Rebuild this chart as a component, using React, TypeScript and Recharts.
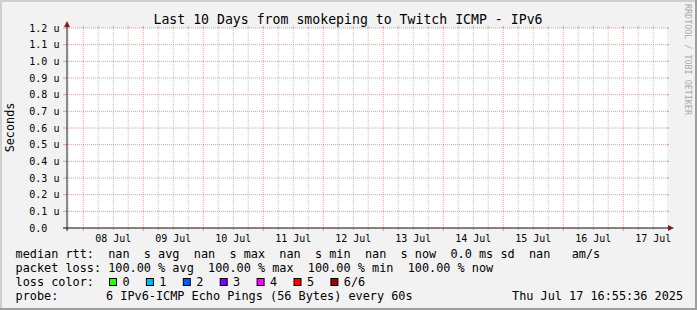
import React from "react";
import { ComposedChart, Line, XAxis, YAxis, ReferenceLine, ReferenceArea } from "recharts";

const FONT = "'DejaVu Sans Mono', 'Liberation Mono', monospace";

const title = "Last 10 Days from smokeping to Twitch ICMP - IPv6";
const yAxisTitle = "Seconds";
const watermark = "RRDTOOL / TOBI OETIKER";

// time axis: hours since 2025-07-07 00:00
const timeStart = 17.5;
const timeEnd = 257.5;
const sampleHours = [17.5, 137.5, 257.5];
const medianRttValues: (number | null)[] = [null, null, null]; // all NaN

const dayLabels = ["08 Jul", "09 Jul", "10 Jul", "11 Jul", "12 Jul", "13 Jul", "14 Jul", "15 Jul", "16 Jul", "17 Jul"];
const dayMidnightHours = [24, 48, 72, 96, 120, 144, 168, 192, 216, 240];
const dayNoonHours = [36, 60, 84, 108, 132, 156, 180, 204, 228, 252];
const minorGridHours = [18, 30, 36, 42, 54, 60, 66, 78, 84, 90, 102, 108, 114, 126, 132, 138, 150, 156, 162, 174, 180, 186, 198, 204, 210, 222, 228, 234, 246, 252];

const yMax = 1.2e-6;
const yTicks = [0, 1e-7, 2e-7, 3e-7, 4e-7, 5e-7, 6e-7, 7e-7, 8e-7, 9e-7, 1e-6, 1.1e-6, 1.2e-6];
const yTickLabels = ["0.0", "0.1 u", "0.2 u", "0.3 u", "0.4 u", "0.5 u", "0.6 u", "0.7 u", "0.8 u", "0.9 u", "1.0 u", "1.1 u", "1.2 u"];

const rttLine = "median rtt:  nan  s avg  nan  s max  nan  s min  nan  s now  0.0 ms sd  nan   am/s";
const packetLossLine = "packet loss: 100.00 % avg  100.00 % max  100.00 % min  100.00 % now";
const lossColorLabel = "loss color:";
const lossLabels = ["0", "1", "2", "3", "4", "5", "6/6"];
const lossColors = ["#26ff00", "#00b8ff", "#0059ff", "#7e00ff", "#ff00ff", "#ff0000", "#a10000"];
const probeLabel = "probe:";
const probeText = "6 IPv6-ICMP Echo Pings (56 Bytes) every 60s";
const dateText = "Thu Jul 17 16:55:36 2025";

const data = sampleHours.map((t, i) => ({ t, median: medianRttValues[i] }));

const MINOR = "rgba(143,143,143,0.55)";
const MAJOR = "rgba(222,79,79,0.55)";
const AXIS = "#1f1f1f";
const ARROW = "#7f1f1f";

const XTick = (props: any) => {
  const { x, payload } = props;
  const idx = dayNoonHours.indexOf(payload.value);
  return (
    <text x={x} y={241.5} textAnchor="middle" fontFamily={FONT} fontSize={10} fill="#000">
      {dayLabels[idx]}
    </text>
  );
};

const YTick = (props: any) => {
  const { y, payload } = props;
  const idx = yTicks.indexOf(payload.value);
  return (
    <text x={29.3} y={y + 3.6} textAnchor="start" fontFamily={FONT} fontSize={10} fill="#000">
      {yTickLabels[idx]}
    </text>
  );
};

const vGrid = (color: string, tickLen: number) => (p: any) => {
  const x = p.x1;
  const top = Math.min(p.y1, p.y2);
  const bot = Math.max(p.y1, p.y2);
  return (
    <g>
      <line x1={x} y1={top - 2} x2={x} y2={top} stroke={color} strokeWidth={1} />
      <line x1={x} y1={bot} x2={x} y2={bot + tickLen} stroke={color} strokeWidth={1} />
      <line x1={x} y1={top} x2={x} y2={bot} stroke={color} strokeWidth={1} strokeDasharray="1 1" />
    </g>
  );
};

const hGrid = (p: any) => {
  const y = p.y1;
  const l = Math.min(p.x1, p.x2);
  const r = Math.max(p.x1, p.x2);
  return (
    <g>
      <line x1={l - 4} y1={y} x2={l} y2={y} stroke={MAJOR} strokeWidth={1} />
      <line x1={r} y1={y} x2={r + 2} y2={y} stroke={MAJOR} strokeWidth={1} />
      <line x1={l} y1={y} x2={r + 2} y2={y} stroke={MAJOR} strokeWidth={1} strokeDasharray="1 1" />
    </g>
  );
};

const yAxisShape = (p: any) => {
  const x = p.x1;
  const top = Math.min(p.y1, p.y2);
  const bot = Math.max(p.y1, p.y2);
  return (
    <g>
      <line x1={x} y1={bot + 3} x2={x} y2={top - 2} stroke={AXIS} strokeWidth={1} />
      <polygon points={`${x - 3},${top - 1} ${x + 3},${top - 1} ${x},${top - 7}`} fill={ARROW} />
    </g>
  );
};

const xAxisShape = (p: any) => {
  const y = p.y1;
  const l = Math.min(p.x1, p.x2);
  const r = Math.max(p.x1, p.x2);
  return (
    <g>
      <line x1={l - 4} y1={y} x2={r + 2} y2={y} stroke={AXIS} strokeWidth={1.2} />
      <polygon points={`${r + 1},${y - 3} ${r + 1},${y + 3} ${r + 7},${y}`} fill={ARROW} />
    </g>
  );
};

export default function App() {
  return (
    <div style={{ position: "absolute", left: 0, top: 0, width: 697, height: 310, overflow: "hidden" }}>
      <svg width={697} height={310} style={{ position: "absolute", left: 0, top: 0 }}>
        <rect x={0} y={0} width={697} height={310} fill="#f2f2f2" />
        <rect x={0} y={0} width={697} height={2} fill="#cfcfcf" />
        <rect x={0} y={0} width={2} height={310} fill="#cfcfcf" />
        <rect x={0} y={308} width={697} height={2} fill="#9e9e9e" />
        <rect x={695} y={0} width={2} height={310} fill="#9e9e9e" />
      </svg>
      <div style={{ position: "absolute", left: 0, top: 0 }}>
        <ComposedChart width={697} height={310} data={data} margin={{ top: 28, right: 30, bottom: 62, left: 30 }}>
          <XAxis
            type="number"
            dataKey="t"
            domain={[timeStart, timeEnd]}
            ticks={dayNoonHours}
            interval={0}
            height={20}
            axisLine={false}
            tickLine={false}
            tick={<XTick />}
            allowDataOverflow
          />
          <YAxis
            type="number"
            domain={[0, yMax]}
            ticks={yTicks}
            interval={0}
            width={37}
            axisLine={false}
            tickLine={false}
            tick={<YTick />}
            allowDataOverflow
          />
          <ReferenceArea x1={timeStart} x2={timeEnd} y1={0} y2={yMax} fill="#ffffff" fillOpacity={1} stroke="none" />
          {minorGridHours.map((h) => (
            <ReferenceLine key={`mi${h}`} x={h} shape={vGrid(MINOR, 2)} ifOverflow="visible" />
          ))}
          {yTicks.map((v) => (
            <ReferenceLine key={`hy${v}`} y={v} shape={hGrid} ifOverflow="visible" />
          ))}
          {dayMidnightHours.map((h) => (
            <ReferenceLine key={`ma${h}`} x={h} shape={vGrid(MAJOR, 3)} ifOverflow="visible" />
          ))}
          <Line dataKey="median" stroke="#000" dot={false} isAnimationActive={false} connectNulls={false} />
          <ReferenceLine x={timeStart} shape={yAxisShape} ifOverflow="visible" />
          <ReferenceLine y={0} shape={xAxisShape} ifOverflow="visible" />
        </ComposedChart>
      </div>
      <svg width={697} height={310} style={{ position: "absolute", left: 0, top: 0, pointerEvents: "none" }} fontFamily={FONT} fill="#000">
        <text x={348} y={24} textAnchor="middle" fontSize={13.2}>{title}</text>
        <text transform="translate(14.3,127.5) rotate(-90)" textAnchor="middle" fontSize={11.8}>{yAxisTitle}</text>
        <text transform="translate(684.5,4) rotate(90)" textAnchor="start" fontSize={8.4} fill="#a8a8a8">{watermark}</text>
        <g fontSize={11.85}>
          <text x={15.5} y={258} style={{ whiteSpace: "pre" }} xmlSpace="preserve">{rttLine}</text>
          <text x={15.5} y={272} style={{ whiteSpace: "pre" }} xmlSpace="preserve">{packetLossLine}</text>
          <text x={15.5} y={286}>{lossColorLabel}</text>
          {lossLabels.map((s, i) => (
            <g key={s}>
              <rect x={109.5 + i * 36.9} y={278.5} width={7} height={7} fill={lossColors[i]} stroke="#000" strokeWidth={1} />
              <text x={122.4 + i * 36.9} y={286}>{s}</text>
            </g>
          ))}
          <text x={15.5} y={300}>{probeLabel}</text>
          <text x={106} y={300}>{probeText}</text>
          <text x={512} y={300} textAnchor="start">{dateText}</text>
        </g>
      </svg>
    </div>
  );
}
